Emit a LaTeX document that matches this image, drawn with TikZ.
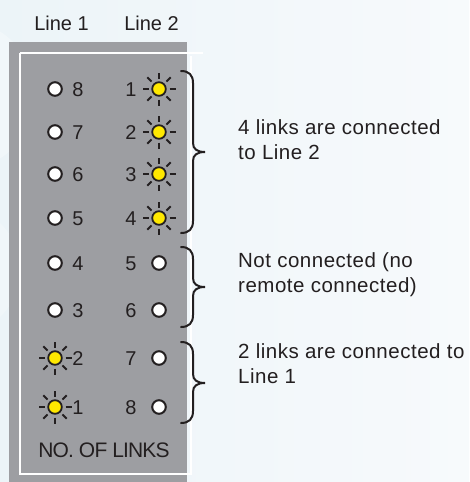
\documentclass[tikz,border=0pt]{standalone}
\usepackage{fontspec}
\setmainfont{Liberation Sans}
\definecolor{bgL}{RGB}{236,244,248}
\definecolor{bgR}{RGB}{247,250,252}
\definecolor{panelgray}{RGB}{157,158,162}
\definecolor{ink}{RGB}{35,31,32}
\definecolor{ledyellow}{RGB}{255,232,0}
\tikzset{
  lbl/.style={font=\fontsize{20.5}{25}\selectfont\addfontfeature{LetterSpace=2.5}, text=ink, inner sep=0pt, anchor=base west, align=left},
  hdr/.style={font=\fontsize{20}{24}\selectfont, text=ink, inner sep=0pt, anchor=base},
  num/.style={font=\fontsize{20}{22}\selectfont, text=ink, inner sep=0pt, anchor=base},
  offled/.style={circle, draw=ink, fill=white, line width=2pt, minimum size=13.6pt, inner sep=0pt},
  onled/.style={circle, draw=ink, fill=ledyellow, line width=1.8pt, minimum size=13.6pt, inner sep=0pt},
  ray/.style={draw=ink, line width=1.8pt},
  bracket/.style={draw=ink, line width=2pt, line cap=round},
  frameline/.style={draw=white, line width=1.6pt}
}
\newcommand{\mybrace}[3]{% top, middle, bottom (y)
  \draw[bracket] (181,#1) .. controls (189,#1) and (193,#1+4) .. (193,#1+12)
    -- (193,#2-9) .. controls (193,#2-3) and (197,#2) .. (205,#2)
    .. controls (197,#2) and (193,#2+3) .. (193,#2+9)
    -- (193,#3-12) .. controls (193,#3-4) and (189,#3) .. (181,#3);}
\begin{document}
\begin{tikzpicture}[x=1pt,y=-1pt]
\useasboundingbox (0,0) rectangle (469,482);
\shade[left color=bgL, right color=bgR] (0,0) rectangle (469,482);
\fill[white, opacity=0.3] (-40,95) circle (75);
\fill[white, opacity=0.25] (-45,270) circle (65);
% panel
\fill[panelgray] (9,42) rectangle (187,482);
\draw[frameline] (20,53) -- (203,53);
\draw[frameline] (20,53) -- (20,474) -- (191,474) -- (191,56);
% headers
\node[hdr] (h1) at (61.5,30) {Line 1};
\node[hdr] (h2) at (151.5,30) {Line 2};
% rows
\foreach \i/\y/\l/\r/\lon/\ron in {1/89/8/1/0/1, 2/132/7/2/0/1, 3/174/6/3/0/1, 4/218/5/4/0/1,
                                    5/263/4/5/0/0, 6/310/3/6/0/0, 7/358/2/7/1/0, 8/407/1/8/1/0}{
  \node[num] (ln\i) at (78,\y+7) {\l};
  \node[num] (rn\i) at (131,\y+7) {\r};
  \ifnum\lon=1
    \node[onled] (la\i) at (55,\y) {};
    \foreach \a in {0,45,...,315} \draw[ray] (la\i.center) ++(\a:10.5) -- ++(\a:6);
  \else
    \node[offled] (la\i) at (55,\y) {};
  \fi
  \ifnum\ron=1
    \node[onled] (ra\i) at (159,\y) {};
    \foreach \a in {0,45,...,315} \draw[ray] (ra\i.center) ++(\a:10.5) -- ++(\a:6);
  \else
    \node[offled] (ra\i) at (159,\y) {};
  \fi
}
\node[font=\fontsize{21}{24}\selectfont\addfontfeature{LetterSpace=-4}, text=ink, inner sep=0pt, anchor=base] (nol) at (104,457) {NO. OF LINKS};
% braces
\mybrace{71}{152}{233}
\mybrace{247}{287}{327}
\mybrace{342}{383}{423}
% labels
\node[lbl] (t1) at (238,159) {4 links are connected\\to Line 2};
\node[lbl] (t2) at (238,292) {Not connected (no\\remote connected)};
\node[lbl] (t3) at (238,383) {2 links are connected to\\Line 1};
\end{tikzpicture}
\end{document}
